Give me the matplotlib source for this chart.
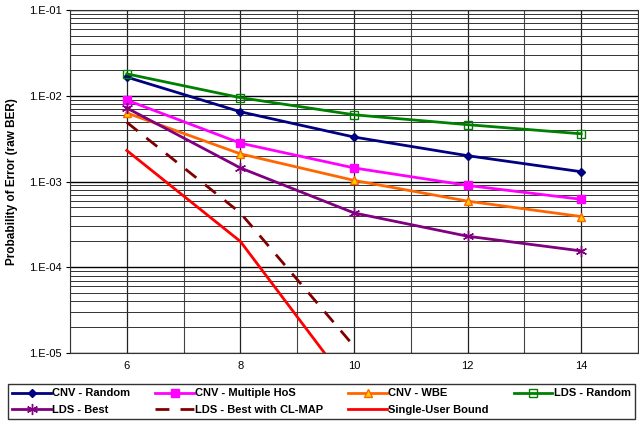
import numpy as np
import matplotlib
matplotlib.use('Agg')
import matplotlib.pyplot as plt
from matplotlib.ticker import FixedLocator, LogLocator, NullFormatter

plt.rcParams['font.family'] = ['Liberation Sans', 'DejaVu Sans']

snr = [6, 8, 10, 12, 14]
cnv_random = [0.0165, 0.0065, 0.0033, 0.0020, 0.0013]
cnv_hos = [0.0089, 0.0028, 0.00144, 0.00090, 0.00062]
cnv_wbe = [0.0063, 0.0021, 0.00103, 0.00059, 0.00039]
lds_random = [0.018, 0.0095, 0.0060, 0.0046, 0.0036]
lds_best = [0.0072, 0.00144, 0.00043, 0.00023, 0.000155]
snr_map = [6, 8, 10]
lds_map = [0.0049, 0.00043, 1.2e-5]
snr_bound = [6, 8, 10]
bound = [0.0023, 0.0002, 3.5e-6]

fig = plt.figure(figsize=(6.39, 4.24), dpi=100)
ax = fig.add_axes([70/639, 71/424, 568/639, 343/424])

ax.plot(snr, cnv_random, color='#000080', lw=2, marker='D', ms=4, label='CNV - Random')
ax.plot(snr, cnv_hos, color='#ff00ff', lw=2, marker='s', ms=6, label='CNV - Multiple HoS')
ax.plot(snr, cnv_wbe, color='#ff6600', lw=2, marker='^', ms=6, mfc='#ffcc00', mec='#ff6600', label='CNV - WBE')
ax.plot(snr, lds_random, color='#008000', lw=2, marker='s', ms=6, mfc='none', mec='#008000', label='LDS - Random')
ax.plot(snr, lds_best, color='#800080', lw=2, marker=(6, 2, 0), ms=8, label='LDS - Best')
ax.plot(snr_map, lds_map, color='#800000', lw=2, dashes=(5, 4), label='LDS - Best with CL-MAP')
ax.plot(snr_bound, bound, color='#ff0000', lw=2, label='Single-User Bound')

ax.set_yscale('log')
ax.set_ylim(1e-5, 1e-1)
ax.set_xlim(5, 15)

yt = [1e-5, 1e-4, 1e-3, 1e-2, 1e-1]
ax.yaxis.set_major_locator(FixedLocator(yt))
ax.set_yticklabels(['1.E-05', '1.E-04', '1.E-03', '1.E-02', '1.E-01'])
ax.yaxis.set_minor_locator(LogLocator(base=10, subs=np.arange(2, 10)))
ax.yaxis.set_minor_formatter(NullFormatter())
ax.set_xticks(snr)
ax.set_xticks(np.arange(5, 16), minor=True)
ax.tick_params(axis='both', which='both', length=0, labelsize=8, pad=6)
ax.tick_params(axis='y', which='major', length=3, width=0.8, pad=3)

ax.grid(which='major', axis='y', color='black', lw=1.0)
ax.grid(which='minor', axis='y', color='#333333', lw=0.7)
ax.grid(which='minor', axis='x', color='#444444', lw=0.8)
ax.grid(which='major', axis='x', color='#222222', lw=0.9)
ax.set_axisbelow(True)
for s in ax.spines.values():
    s.set_color('#333333')

ax.set_ylabel('Probability of Error (raw BER)', fontsize=8.5, fontweight='bold', labelpad=8)

handles, labels = ax.get_legend_handles_labels()
order = [0, 4, 1, 5, 2, 6, 3]
leg = fig.legend([handles[i] for i in order], [labels[i] for i in order],
                 loc='lower left', bbox_to_anchor=(8/639, 5/424, 627/639, 37/424),
                 mode='expand', ncol=4, prop={'weight': 'bold', 'size': 8},
                 frameon=True, fancybox=False, edgecolor='black', borderpad=0.4,
                 borderaxespad=0, handlelength=3.5, handletextpad=0.1, labelspacing=0.55)
leg.get_frame().set_linewidth(1.0)

fig.savefig('out.png', dpi=100)
